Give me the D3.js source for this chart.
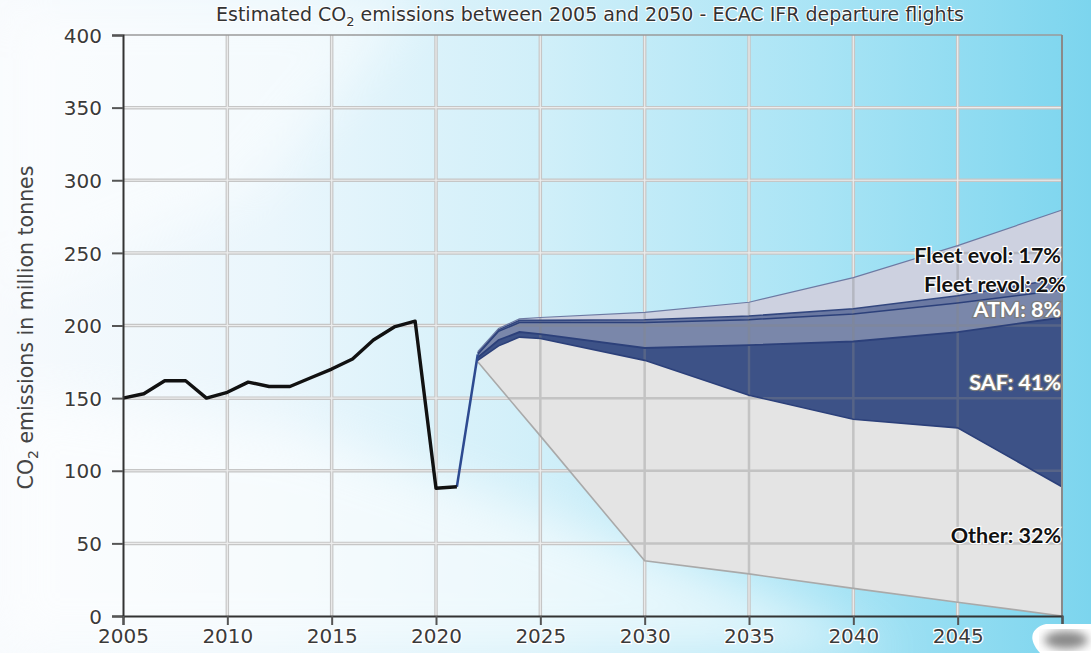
<!DOCTYPE html>
<html>
<head>
<meta charset="utf-8">
<script src="https://cdn.jsdelivr.net/npm/d3@7"></script>
<style>
  html, body { margin: 0; padding: 0; background: #fff; }
  svg { display: block; }
</style>
</head>
<body>
<div id="chart"></div>
<script>
// historical emissions (million tonnes)
const histYears = [2005, 2006, 2007, 2008, 2009, 2010, 2011, 2012, 2013, 2014, 2015, 2016, 2017, 2018, 2019, 2020, 2021];
const histValues = [150, 153, 162, 162, 150, 154, 161, 158, 158, 164, 170, 177, 190, 199, 203, 88, 89];

// projection, band boundaries from bottom to top
const projYears   = [2022, 2023, 2024, 2025, 2030, 2035, 2040, 2045, 2050];
const otherBottom = [175, 158, 141, 124, 38, 29, 19, 9.5, 0];
const safBottom   = [176, 186, 192, 191, 176, 152, 135.5, 129.5, 89];
const atmBottom   = [178, 190, 195.5, 194, 184.5, 186.5, 189, 195.5, 205.5];
const revolBottom = [180, 196, 202, 202, 202, 204, 208, 215.5, 224.5];
const evolBottom  = [181, 197, 203.5, 203.5, 204, 206.5, 211.5, 220.5, 232.5];
const evolTop     = [182, 198, 204.5, 205.5, 209, 216, 233, 255, 279.5];

const bandNames = ["Other", "SAF", "ATM", "Fleet revol", "Fleet evol"];
const bandLabels = ["Other: 32%", "SAF: 41%", "ATM: 8%", "Fleet revol: 2%", "Fleet evol: 17%"];

const xTicks = [2005, 2010, 2015, 2020, 2025, 2030, 2035, 2040, 2045, 2050];
const yTicks = [0, 50, 100, 150, 200, 250, 300, 350, 400];

const W = 1091, H = 653;
const margin = {top: 35, right: 29, bottom: 37, left: 123};

const svg = d3.select("#chart").append("svg")
    .attr("width", W)
    .attr("height", H)
    .style("font-family", "'DejaVu Sans', sans-serif");

const defs = svg.append("defs");
const bg = defs.append("linearGradient").attr("id", "bg")
    .attr("x1", 0).attr("x2", 1).attr("y1", 0).attr("y2", 0);
[[0, "#f7fafd"], [0.25, "#eaf6fc"], [0.5, "#d0eff9"], [0.75, "#a9e4f5"], [1, "#7cd5ee"]]
    .forEach(s => bg.append("stop").attr("offset", s[0]).attr("stop-color", s[1]));
defs.append("filter").attr("id", "blur").append("feGaussianBlur").attr("stdDeviation", 25);
defs.append("filter").attr("id", "blur2").append("feGaussianBlur").attr("stdDeviation", 5);

// background
svg.append("rect").attr("width", W).attr("height", H).attr("fill", "url(#bg)");
svg.append("path")
    .attr("d", "M0,653 L0,390 L300,430 L560,520 L780,600 L900,653 Z")
    .attr("fill", "#ffffff").attr("opacity", 0.6).attr("filter", "url(#blur)");
svg.append("path")
    .attr("d", "M0,0 L0,300 L250,200 L420,0 Z")
    .attr("fill", "#ffffff").attr("opacity", 0.5).attr("filter", "url(#blur)");

const x = d3.scaleLinear().domain([2005, 2050]).range([margin.left, W - margin.right]);
const y = d3.scaleLinear().domain([0, 400]).range([H - margin.bottom, margin.top]);

// grid
function drawGrid(g, color, width) {
    g.selectAll(".gx").data(xTicks.slice(1, -1)).enter().append("line")
        .attr("x1", d => x(d)).attr("x2", d => x(d))
        .attr("y1", y(400)).attr("y2", y(0))
        .attr("stroke", color).attr("stroke-width", width);
    g.selectAll(".gy").data(yTicks.slice(1, -1)).enter().append("line")
        .attr("x1", x(2005)).attr("x2", x(2050))
        .attr("y1", d => y(d)).attr("y2", d => y(d))
        .attr("stroke", color).attr("stroke-width", width);
}
const grid = svg.append("g");
drawGrid(grid.append("g"), "#c6c6c6", 3.5);
drawGrid(grid.append("g"), "#ececec", 1.2);

// projection bands
const bounds = [otherBottom, safBottom, atmBottom, revolBottom, evolBottom, evolTop];
const bandColors = ["#e4e4e4", "#3d5287", "#7a87aa", "#6b79a2", "#cdd1e0"];
const area = d3.area()
    .x(d => x(d.year))
    .y0(d => y(d.lo))
    .y1(d => y(d.hi));

const bands = bandNames.map((name, i) => ({
    name: name,
    color: bandColors[i],
    points: projYears.map((yr, j) => ({year: yr, lo: bounds[i][j], hi: bounds[i + 1][j]}))
}));

svg.append("g").selectAll("path").data(bands).enter().append("path")
    .attr("d", d => area(d.points))
    .attr("fill", d => d.color);

// grid seen through the bands
const whole = projYears.map((yr, j) => ({year: yr, lo: otherBottom[j], hi: evolTop[j]}));
defs.append("clipPath").attr("id", "bandclip").append("path").attr("d", area(whole));
drawGrid(svg.append("g").attr("clip-path", "url(#bandclip)").attr("opacity", 0.35), "#888", 2.5);

// boundary lines
const line = d3.line().x(d => x(d[0])).y(d => y(d[1]));
const edgeStyle = [
    {c: "#a9a9a9", w: 1.6},
    {c: "#2c407a", w: 1.6},
    {c: "#2c407a", w: 1.8},
    {c: "#2c407a", w: 1.5},
    {c: "#33477f", w: 1.6},
    {c: "#6d7aa3", w: 1.2}
];
bounds.forEach((b, i) => {
    svg.append("path")
        .attr("d", line(projYears.map((yr, j) => [yr, b[j]])))
        .attr("fill", "none")
        .attr("stroke", edgeStyle[i].c)
        .attr("stroke-width", edgeStyle[i].w);
});

// historical line
svg.append("path")
    .attr("d", line([[histYears[histYears.length - 1], histValues[histValues.length - 1]], [projYears[0], revolBottom[0]]]))
    .attr("fill", "none").attr("stroke", "#2d4a90").attr("stroke-width", 2.5);
svg.append("path")
    .attr("d", line(histYears.map((yr, i) => [yr, histValues[i]])))
    .attr("fill", "none").attr("stroke", "#111").attr("stroke-width", 3.4)
    .attr("stroke-linejoin", "round");

// frame
svg.append("line").attr("x1", x(2005)).attr("x2", x(2050)).attr("y1", y(400)).attr("y2", y(400))
    .attr("stroke", "#9a9a9a").attr("stroke-width", 1.5);
svg.append("line").attr("x1", x(2050)).attr("x2", x(2050)).attr("y1", y(400)).attr("y2", y(0))
    .attr("stroke", "#8a8a8a").attr("stroke-width", 2);

// axes
const yAxis = svg.append("g")
    .attr("transform", `translate(${x(2005)},0)`)
    .call(d3.axisLeft(y).tickValues(yTicks).tickSize(11).tickPadding(10));
const xAxis = svg.append("g")
    .attr("transform", `translate(0,${y(0)})`)
    .call(d3.axisBottom(x).tickValues(xTicks).tickFormat(d3.format("d")).tickSize(9).tickPadding(4));
[yAxis, xAxis].forEach(a => {
    a.select(".domain").attr("stroke", "#333").attr("stroke-width", 2);
    a.selectAll(".tick line").attr("stroke", "#555").attr("stroke-width", 2);
    a.selectAll("text")
        .attr("fill", "#3a3a3a")
        .attr("stroke", "#ffffff").attr("stroke-width", 2.5)
        .attr("paint-order", "stroke")
        .style("font-family", "'DejaVu Sans', sans-serif")
        .style("font-size", "20px");
});
yAxis.selectAll("text").attr("dy", "0.36em");

// title
const title = svg.append("text")
    .attr("x", 590).attr("y", 21)
    .attr("text-anchor", "middle")
    .attr("fill", "#333")
    .attr("stroke", "#ffffff").attr("stroke-width", 2).attr("paint-order", "stroke")
    .style("font-size", "19px");
title.append("tspan").text("Estimated CO");
title.append("tspan").attr("dy", 5).style("font-size", "13px").text("2");
title.append("tspan").attr("dy", -5).text(" emissions between 2005 and 2050 - ECAC IFR departure flights");

// y label
const ylab = svg.append("text")
    .attr("transform", `translate(33,${(y(0) + y(400)) / 2 + 2}) rotate(-90)`)
    .attr("text-anchor", "middle")
    .attr("fill", "#444")
    .style("font-size", "20.5px");
ylab.append("tspan").text("CO");
ylab.append("tspan").attr("dy", 5).style("font-size", "14px").text("2");
ylab.append("tspan").attr("dy", -5).text(" emissions in million tonnes");

// band labels (value units for vertical placement)
const labelAt = [50, 155.5, 206, 223, 243];
const labelDx = [0, 0, 0, 5, 0];
const labelDark = [true, false, false, true, true];
svg.append("g").selectAll("text").data(bandLabels).enter().append("text")
    .attr("x", (d, i) => x(2050) - 1 + labelDx[i])
    .attr("y", (d, i) => y(labelAt[i]))
    .attr("text-anchor", "end")
    .attr("fill", (d, i) => labelDark[i] ? "#111" : "#ffffff")
    .attr("stroke", (d, i) => labelDark[i] ? "#ffffff" : "#7c7c7c")
    .attr("stroke-width", 2.5)
    .attr("paint-order", "stroke")
    .style("font-family", "Lato, 'Open Sans', sans-serif")
    .style("font-weight", "bold")
    .style("font-size", "21.5px")
    .text(d => d);

// blurred watermark in the corner
svg.append("path")
    .attr("d", "M1040,653 C1028,640 1030,628 1046,624 L1091,624 L1091,653 Z")
    .attr("fill", "#ffffff");
svg.append("ellipse").attr("cx", 1066).attr("cy", 640).attr("rx", 22).attr("ry", 9)
    .attr("fill", "#888").attr("filter", "url(#blur2)");
</script>
</body>
</html>
